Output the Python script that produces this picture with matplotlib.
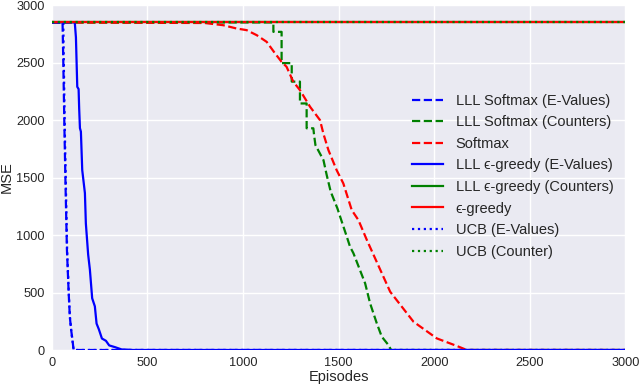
import matplotlib
matplotlib.use("Agg")
import matplotlib.pyplot as plt

# ---- data (episodes, MSE) ----
sm_e_x = [0, 56, 60, 66, 72, 79, 88, 94, 101, 108, 112, 115, 3000]
sm_e_y = [2850, 2850, 2500, 1913, 1400, 870, 500, 290, 174, 87, 26, 0, 0]

sm_c_x = [0, 1159, 1159, 1202, 1202, 1255, 1255, 1298, 1298, 1333, 1333, 1368,
          1372, 1379, 1421, 1438, 1459, 1494, 1517, 1543, 1560, 1578, 1639,
          1665, 1700, 1726, 1761, 1775, 3000]
sm_c_y = [2850, 2850, 2768, 2768, 2496, 2496, 2335, 2335, 2145, 2145, 1929, 1929,
          1870, 1783, 1652, 1522, 1377, 1232, 1116, 986, 899, 841, 580,
          406, 232, 116, 43, 0, 0]

sm_x = [0, 800, 896, 967, 1019, 1072, 1124, 1168, 1202, 1228, 1263, 1298, 1351,
        1403, 1421, 1447, 1490, 1525, 1569, 1604, 1648, 1770, 1892, 2014,
        2119, 2171, 3000]
sm_y = [2850, 2845, 2826, 2797, 2783, 2739, 2681, 2580, 2507, 2464, 2335, 2261, 2116,
        2000, 1880, 1739, 1565, 1449, 1217, 1130, 957, 507, 246, 101,
        35, 0, 0]

eg_e_x = [0, 120, 126, 133, 140, 143, 147, 152, 159, 173, 178, 190, 199, 211,
          225, 234, 246, 262, 283, 300, 330, 365, 425, 3000]
eg_e_y = [2850, 2850, 2720, 2290, 2270, 2100, 1930, 1900, 1565, 1365, 1100, 830,
          700, 450, 380, 230, 180, 100, 80, 40, 25, 5, 0, 0]

eg_c_x = [0, 3000]
eg_c_y = [2850, 2850]

eg_x = [0, 3000]
eg_y = [2850, 2850]

ucb_e_x = [0, 60, 63, 68, 74, 80, 89, 95, 102, 108, 112, 115, 3000]
ucb_e_y = [2850, 2850, 2450, 1900, 1380, 870, 480, 280, 160, 80, 20, 0, 0]

ucb_c_x = [0, 3000]
ucb_c_y = [2850, 2850]

labels = ["LLL Softmax (E-Values)", "LLL Softmax (Counters)", "Softmax",
          "LLL \u03f5-greedy (E-Values)", "LLL \u03f5-greedy (Counters)",
          "\u03f5-greedy", "UCB (E-Values)", "UCB (Counter)"]
xticks = [0, 500, 1000, 1500, 2000, 2500, 3000]
yticks = [0, 500, 1000, 1500, 2000, 2500, 3000]

plt.rcParams['font.family'] = ['Liberation Sans', 'DejaVu Sans']
fig = plt.figure(figsize=(6.4, 3.87), dpi=100)
ax = fig.add_axes([0.081, 0.0956, 0.896, 0.891])
ax.set_facecolor('#EAEAF2')
for s in ax.spines.values():
    s.set_visible(False)
ax.grid(True, color='white', linewidth=1.0)
ax.set_axisbelow(True)

lw = 1.6
ax.plot(sm_e_x, sm_e_y, color='b', linestyle='--', lw=lw, label=labels[0])
ax.plot(sm_c_x, sm_c_y, color='g', linestyle='--', lw=lw, label=labels[1])
ax.plot(sm_x, sm_y, color='r', linestyle='--', lw=lw, label=labels[2])
ax.plot(eg_e_x, eg_e_y, color='b', linestyle='-', lw=lw, label=labels[3])
ax.plot(eg_c_x, eg_c_y, color='g', linestyle='-', lw=lw, label=labels[4])
ax.plot(eg_x, eg_y, color='r', linestyle='-', lw=lw, label=labels[5])
ax.plot(ucb_e_x, ucb_e_y, color='b', linestyle=':', lw=lw, label=labels[6])
ax.plot(ucb_c_x, ucb_c_y, color='g', linestyle=':', lw=lw, label=labels[7])

ax.set_xlim(0, 3000)
ax.set_ylim(0, 3000)
ax.set_xticks(xticks)
ax.set_yticks(yticks)
ax.tick_params(length=0, labelsize=9.2, colors='#262626', pad=5)
ax.set_xlabel("Episodes", fontsize=10.5, color='#262626', labelpad=1)
ax.set_ylabel("MSE", fontsize=10.5, color='#262626', labelpad=2)

leg = ax.legend(loc='center left', bbox_to_anchor=(0.628, 0.504), frameon=False,
                fontsize=10.5, handlelength=2.1, labelspacing=0.52, handletextpad=0.9,
                borderpad=0, borderaxespad=0)
for t in leg.get_texts():
    t.set_color('#262626')

fig.savefig("out.png", dpi=100)
